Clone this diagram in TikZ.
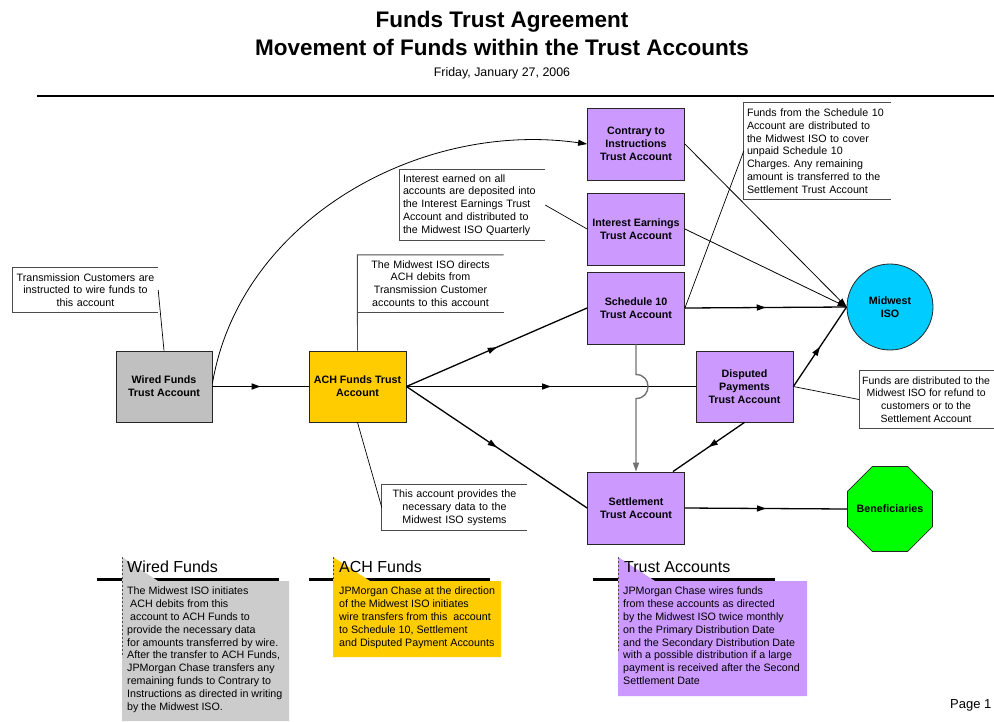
\documentclass[tikz,border=0pt]{standalone}
\usepackage{fontspec}
\setmainfont{Liberation Sans}
\frenchspacing
\usetikzlibrary{arrows.meta,decorations.markings,shapes.geometric}
\definecolor{acctpurple}{HTML}{CC99FF}
\definecolor{achgold}{HTML}{FFCC00}
\definecolor{wiregray}{HTML}{C0C0C0}
\definecolor{panelgray}{HTML}{CCCCCC}
\definecolor{isocyan}{HTML}{00CCFF}
\definecolor{benefgreen}{HTML}{00FF00}
\begin{document}
\begin{tikzpicture}[x=1pt,y=-1pt,
  acct/.style={draw=black!85, line width=0.8pt, fill=acctpurple, minimum width=97pt, minimum height=72pt, inner sep=1pt, align=center, font=\bfseries\fontsize{10.7}{13}\selectfont},
  flow/.style={line width=1.3pt},
  thinflow/.style={line width=0.8pt},
  hopline/.style={line width=1.4pt, draw=black!55},
  midarrow/.style={postaction={decorate}, decoration={markings, mark=at position 0.5 with {\arrow{Triangle[length=9pt,width=6pt]}}}},
  tipend/.style={-{Triangle[length=9pt,width=6pt]}},
  ann/.style={inner xsep=3pt, inner ysep=0pt, font=\fontsize{10.7}{12.8}\selectfont},
  bracket/.style={draw=black!70, line width=0.9pt},
  leader/.style={line width=0.7pt},
  ptitle/.style={anchor=base west, inner sep=0pt, font=\fontsize{16}{19}\selectfont},
  ptext/.style={anchor=north west, inner sep=0pt, align=left, font=\fontsize{10.7}{12.8}\selectfont},
  dashline/.style={draw=black!70, line width=0.8pt, dash pattern=on 2pt off 2pt},
  bar/.style={line width=3pt}
]
\clip (0,0) rectangle (994,721);
\fill[white] (0,0) rectangle (994,721);

% title
\node[font=\bfseries\fontsize{22.5}{27}\selectfont, anchor=base, inner sep=0pt] (title1) at (502,27) {Funds Trust Agreement};
\node[font=\bfseries\fontsize{22.5}{27}\selectfont, anchor=base, inner sep=0pt] (title2) at (502,55) {Movement of Funds within the Trust Accounts};
\node[font=\fontsize{12.4}{15}\selectfont, anchor=base, inner sep=0pt] (date) at (502,76) {Friday, January 27, 2006};
\draw[line width=2pt] (37,96) -- (994,96);

% account nodes
\node[acct, fill=wiregray, minimum width=96pt, minimum height=71pt] (wired) at (164,386.5) {Wired Funds\\Trust Account};
\node[acct, fill=achgold, minimum height=71pt] (ach) at (357.5,386.5) {ACH Funds Trust\\Account};
\node[acct] (contrary) at (636,144) {Contrary to\\Instructions\\Trust Account};
\node[acct] (interest) at (636,229) {Interest Earnings\\Trust Account};
\node[acct] (sched) at (636,308) {Schedule 10\\Trust Account};
\node[acct, minimum height=71pt] (disputed) at (744.5,386.5) {Disputed\\Payments\\Trust Account};
\node[acct] (settle) at (636,508) {Settlement\\Trust Account};
\node[circle, draw=black!85, line width=0.8pt, fill=isocyan, minimum size=86pt, inner sep=0pt, align=center, font=\bfseries\fontsize{10.7}{13}\selectfont] (iso) at (890,307) {Midwest\\ISO};
\node[regular polygon, regular polygon sides=8, draw=black!85, line width=0.8pt, fill=benefgreen, minimum size=92pt, inner sep=0pt] (benef) at (890,509) {};
\node[inner sep=0pt, font=\bfseries\fontsize{10.7}{13}\selectfont] (beneflabel) at (benef.center) {Beneficiaries};

% annotations
\node[ann, text width=139pt, minimum height=44pt, align=center] (tc) at (85.5,290) {Transmission Customers are\\instructed to wire funds to\\this account};
\node[ann, text width=140pt, minimum height=57pt, align=center] (dir) at (430.5,283.5) {The Midwest ISO directs\\ACH debits from\\Transmission Customer\\accounts to this account};
\node[ann, text width=139pt, minimum height=70pt, align=left] (intnote) at (472.5,205) {Interest earned on all\\accounts are deposited into\\the Interest Earnings Trust\\Account and distributed to\\the Midwest ISO Quarterly};
\node[ann, text width=141pt, minimum height=96pt, align=left] (s10note) at (817.5,151) {Funds from the Schedule 10\\Account are distributed to\\the Midwest ISO to cover\\unpaid Schedule 10\\Charges. Any remaining\\amount is transferred to the\\Settlement Trust Account};
\node[ann, text width=139pt, minimum height=45pt, align=center] (datanote) at (454.5,507.5) {This account provides the\\necessary data to the\\Midwest ISO systems};
\node[ann, font=\fontsize{10.5}{12.8}\selectfont, minimum height=57pt, align=center, anchor=west] (refund) at (859,399.5) {Funds are distributed to the\\Midwest ISO for refund to\\customers or to the\\Settlement Account};

\draw[bracket] (tc.north east) -- (tc.north west) -- (tc.south west) -- (tc.south east);
\draw[bracket] (dir.north east) -- (dir.north west) -- (ach.north);
\draw[bracket] (dir.south west) -- (dir.south east);
\draw[bracket] (intnote.north east) -- (intnote.north west) -- (intnote.south west) -- (intnote.south east);
\draw[bracket] (s10note.north east) -- (s10note.north west) -- (s10note.south west) -- (s10note.south east);
\draw[bracket] (datanote.north east) -- (datanote.north west) -- (datanote.south west) -- (datanote.south east);
\draw[bracket] ([xshift=10pt]refund.north east) -- (refund.north west) -- (refund.south west) -- ([xshift=10pt]refund.south east);

\draw[leader] (tc.east) -- (wired.north);
\draw[leader] (intnote.east) -- (interest.west);
\draw[leader] (s10note.west) -- (sched.east);
\draw[leader] (datanote.west) -- (ach.south);
\draw[leader] (refund.west) -- (disputed.east);

% flows
\draw[flow, line width=1.6pt, midarrow] (wired.east) -- (ach.west);
\draw[thinflow, tipend] ([yshift=3pt]wired.east) .. controls (240,220) and (420,120) .. (contrary.west);
\draw[flow, midarrow] (ach.east) -- (sched.west);
\draw[flow, midarrow] (ach.east) -- (disputed.west);
\draw[flow, midarrow] (ach.east) -- (settle.west);
\draw[thinflow, tipend] (contrary.east) -- (iso.west);
\draw[thinflow, tipend] (interest.east) -- (iso.west);
\draw[flow, midarrow] (sched.east) -- (iso.west);
\draw[flow, midarrow] (disputed.east) -- (iso.west);
\draw[flow, midarrow] (disputed.south) -- ([xshift=-12pt]settle.north east);
\draw[flow, midarrow] (settle.east) -- (benef.west);
\draw[hopline, tipend] (sched.south) -- (636,374.5) .. controls (652,374.5) and (652,398.5) .. (636,398.5) -- (settle.north);

% bottom panels
\draw[bar] (97,579) -- (279,579);
\fill[panelgray] (122,557) -- (158,581) -- (289,581) -- (289,721) -- (122,721) -- cycle;
\draw[dashline] (122,557) -- (122,655);
\node[ptitle] (wtitle) at (127,572) {Wired Funds};
\node[ptext] (wtext) at (127,587) {The Midwest ISO initiates\\\hspace*{3pt}ACH debits from this\\\hspace*{3pt}account to ACH Funds to\\provide the necessary data\\for amounts transferred by wire.\\After the transfer to ACH Funds,\\JPMorgan Chase transfers any\\remaining funds to Contrary to\\Instructions as directed in writing\\by the Midwest ISO.};

\draw[bar] (309,579) -- (490,579);
\fill[achgold] (333,557) -- (370,581) -- (501,581) -- (501,657) -- (333,657) -- cycle;
\draw[dashline] (333,557) -- (333,581);
\node[ptitle] (atitle) at (339,572) {ACH Funds};
\node[ptext] (atext) at (339,587) {JPMorgan Chase at the direction\\of the Midwest ISO initiates\\wire transfers from this~ account\\to Schedule 10, Settlement\\and Disputed Payment Accounts};

\draw[bar] (593,579) -- (775,579);
\fill[acctpurple] (618,557) -- (655,581) -- (807,581) -- (807,696) -- (618,696) -- cycle;
\draw[dashline] (618,557) -- (618,652);
\node[ptitle] (ttitle) at (624,572) {Trust Accounts};
\node[ptext] (ttext) at (623,587) {JPMorgan Chase wires funds\\from these accounts as directed\\by the Midwest ISO twice monthly\\on the Primary Distribution Date\\and the Secondary Distribution Date\\with a possible distribution if a large\\payment is received after the Second\\Settlement Date};

\node[anchor=base west, inner sep=0pt, font=\fontsize{13}{15}\selectfont] (page) at (950,708) {Page 1};
\end{tikzpicture}
\end{document}
